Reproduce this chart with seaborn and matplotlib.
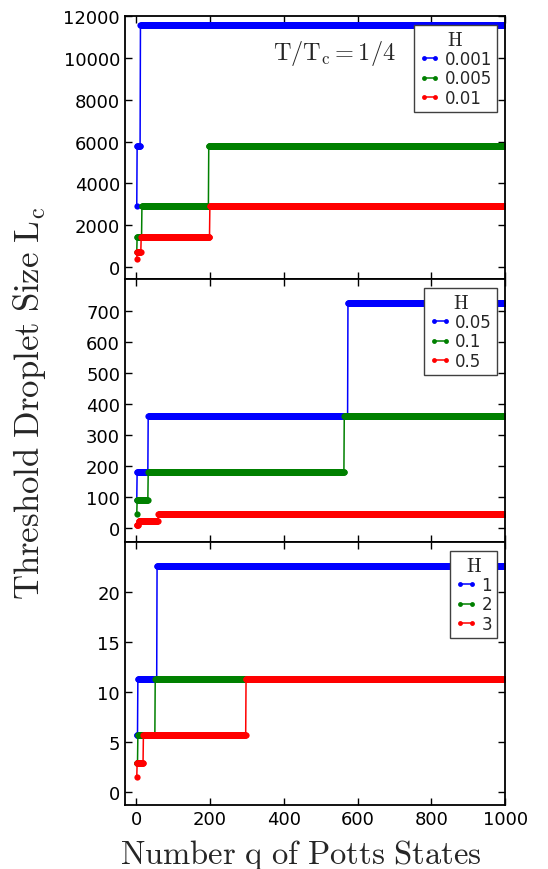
import numpy as np
import pandas as pd
import matplotlib
matplotlib.use("Agg")
import matplotlib.pyplot as plt
import seaborn as sns

# ---------------- data ----------------
q_first, q_last = 2, 1000

# Panel 1: T/Tc = 1/4, small fields
H_p1 = ["0.001", "0.005", "0.01"]
q_start_p1 = [[2, 3, 12], [2, 3, 16, 197], [2, 3, 14, 200]]
lc_p1 = [[2896, 5792, 11584], [724, 1448, 2896, 5792], [362, 724, 1448, 2896]]

# Panel 2: intermediate fields
H_p2 = ["0.05", "0.1", "0.5"]
q_start_p2 = [[2, 3, 33, 574], [2, 3, 33, 564], [2, 7, 60]]
lc_p2 = [[90.5, 181, 362, 724], [45.25, 90.5, 181, 362], [11.31, 22.63, 45.25]]

# Panel 3: large fields
H_p3 = ["1", "2", "3"]
q_start_p3 = [[2, 5, 57], [2, 5, 52], [2, 3, 20, 298]]
lc_p3 = [[5.66, 11.31, 22.63], [2.83, 5.66, 11.31], [1.41, 2.83, 5.66, 11.31]]

x_ticks = [0, 200, 400, 600, 800, 1000]
y_ticks_p1 = [0, 2000, 4000, 6000, 8000, 10000, 12000]
y_ticks_p2 = [0, 100, 200, 300, 400, 500, 600, 700]
y_ticks_p3 = [0, 5, 10, 15, 20]

colors = ["#0000ff", "#008000", "#ff0000"]


def build_frame(h_labels, starts, levels):
    q = np.arange(q_first, q_last + 1)
    frames = []
    for h, s, lv in zip(h_labels, starts, levels):
        idx = np.searchsorted(np.asarray(s), q, side="right") - 1
        frames.append(pd.DataFrame({"q": q, "Lc": np.asarray(lv, float)[idx], "H": h}))
    return pd.concat(frames, ignore_index=True)


sns.set_theme(style="ticks", rc={
    "xtick.direction": "in", "ytick.direction": "in",
    "xtick.top": True, "ytick.right": True,
    "xtick.major.size": 5, "ytick.major.size": 5,
    "xtick.major.width": 1, "ytick.major.width": 1,
    "axes.linewidth": 1.3, "axes.edgecolor": "black",
    "xtick.color": "black", "ytick.color": "black",
    "xtick.labelsize": 13, "ytick.labelsize": 13,
    "font.size": 13,
})
plt.rcParams["font.family"] = ["DejaVu Sans"]
plt.rcParams["mathtext.fontset"] = "cm"

fig, axes = plt.subplots(3, 1, sharex=True, figsize=(5.48, 8.7), dpi=100)
fig.subplots_adjust(left=0.228, right=0.922, top=0.980, bottom=0.073, hspace=0)

panels = [
    (H_p1, q_start_p1, lc_p1, y_ticks_p1, (-600, 12000)),
    (H_p2, q_start_p2, lc_p2, y_ticks_p2, (-45, 800)),
    (H_p3, q_start_p3, lc_p3, y_ticks_p3, (-1.4, 25)),
]

for ax, (hl, st, lv, yt, yl) in zip(axes, panels):
    df = build_frame(hl, st, lv)
    sns.lineplot(data=df, x="q", y="Lc", hue="H", hue_order=hl, palette=colors,
                 marker="o", markersize=4.5, markeredgewidth=0, linewidth=1.1,
                 estimator=None, legend=False, ax=ax)
    ax.set_xlim(-30, 1000)
    ax.set_ylim(*yl)
    ax.set_yticks(yt)
    ax.set_xticks(x_ticks)
    ax.set_xlabel("")
    ax.set_ylabel("")
    handles = []
    for c in colors:
        h, = ax.plot([], [], color=c, marker="o", markersize=3.5,
                     markeredgewidth=0, linewidth=1.1)
        handles.append(h)
    leg = ax.legend(handles, hl, title=r"$\mathrm{H}$", loc="upper right",
                    numpoints=2, handlelength=1.3, handletextpad=0.25,
                    labelspacing=0.08, borderpad=0.3, borderaxespad=0.5,
                    fancybox=False, framealpha=1, edgecolor="0.25",
                    fontsize=12, title_fontsize=14)
    leg.get_frame().set_linewidth(1.0)

axes[0].text(0.39, 0.862, r"$\mathrm{T/T_c=1/4}$", transform=axes[0].transAxes,
             fontsize=17.5, ha="left", va="center")

axes[2].set_xlabel(r"$\mathrm{Number\ q\ of\ Potts\ States}$", fontsize=23.5)
axes[2].xaxis.set_label_coords(0.463, -0.118)
fig.text(0.053, 0.536, r"$\mathrm{Threshold\ Droplet\ Size\ L_c}$",
         rotation=90, ha="center", va="center", fontsize=25)

fig.savefig("out.png", dpi=100)
